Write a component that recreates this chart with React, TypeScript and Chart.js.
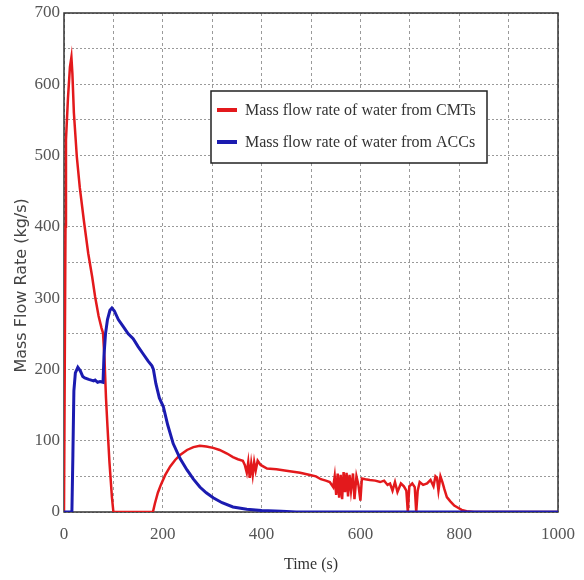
import { useEffect, useRef } from "react";
import { Chart, registerables } from "chart.js";

Chart.register(...registerables);

// Time (s) and mass flow rate (kg/s) of water from the CMTs
const cmtTime = [
  0, 2, 3, 4, 8, 12, 15, 17, 20, 26, 32, 40, 49, 57, 63, 70, 76, 79, 82, 85, 88, 92, 97, 100,
  180, 184, 190, 196, 205, 215, 225, 235, 249, 262, 275, 288, 302, 315, 330, 342, 352, 362,
  366, 370, 373, 376, 379, 382, 385, 388, 392, 398, 411, 430, 450, 478, 498, 510, 520, 530,
  538, 545, 548, 551, 554, 557, 560, 563, 566, 569, 572, 575, 578, 581, 585, 588, 592, 596,
  600, 603, 610, 619, 630, 640, 648, 655, 660, 665, 670, 675, 682, 688, 693, 696, 699, 705,
  710, 713, 716, 720, 727, 735, 742, 748, 752, 755, 758, 762, 766, 770, 775, 782, 790, 795,
  805, 815, 830, 1000,
];
const cmtFlow = [
  0, 0, 400, 522, 580, 624, 638, 615, 560, 498, 455, 410, 363, 330, 302, 275, 258, 251, 215,
  160, 120, 70, 21, 0,
  0, 12, 27, 38, 52, 64, 73, 80, 87, 91, 93, 92, 90, 87, 82, 77, 74, 72,
  66, 55, 70, 48, 68, 52, 70, 58, 72, 66, 61, 60, 58, 55, 52, 50, 46, 44,
  42, 35, 50, 24, 54, 20, 52, 18, 56, 28, 55, 22, 52, 30, 54, 18, 50, 38,
  16, 47, 46, 45, 44, 42, 44, 38, 40, 30, 42, 28, 40, 36, 30, 0, 36, 40,
  35, 0, 30, 42, 38, 40, 45, 36, 50, 48, 30, 50, 42, 32, 21, 15, 9, 7,
  3, 1, 0, 0,
];

// Time (s) and mass flow rate (kg/s) of water from the ACCs
const accTime = [
  0, 16, 18, 20, 23, 28, 33, 38, 42, 50, 55, 60, 63, 68, 73, 79, 81, 84, 88, 93, 97, 102,
  110, 120, 130, 140, 150, 160, 170, 178, 181, 186, 193, 201, 210, 221, 235, 249, 262, 275,
  288, 302, 320, 342, 370, 400, 440, 470, 1000,
];
const accFlow = [
  0, 0, 80, 170, 195, 203, 198, 190, 188, 186, 185, 184, 185, 182, 183, 182, 220, 250, 270,
  283, 286, 282, 270, 260, 250, 243, 232, 222, 212, 205, 200, 180, 160, 148, 122, 96, 75, 59,
  46, 35, 27, 20, 13, 7, 4, 2, 1, 0, 0,
];

const seriesLabels = ["Mass flow rate of water from CMTs", "Mass flow rate of water from ACCs"];
const seriesColors = ["#e3191c", "#1b1bb0"];
const xTickLabels = ["0", "200", "400", "600", "800", "1000"];
const yTickLabels = ["0", "100", "200", "300", "400", "500", "600", "700"];
const xTitle = "Time (s)";
const yTitle = "Mass Flow Rate (kg/s)";

const tickFont = { family: "'Liberation Serif', serif", size: 17 };

const frameAndLegend = {
  id: "frameAndLegend",
  beforeDatasetsDraw(chart: any) {
    const { ctx, chartArea } = chart;
    ctx.save();
    ctx.strokeStyle = "#333";
    ctx.lineWidth = 1.5;
    ctx.strokeRect(chartArea.left, chartArea.top, chartArea.right - chartArea.left, chartArea.bottom - chartArea.top);
    ctx.restore();
  },
  afterDatasetsDraw(chart: any) {
    const { ctx } = chart;
    const bx = 211, by = 91, bw = 276, bh = 72;
    ctx.save();
    ctx.fillStyle = "#fff";
    ctx.fillRect(bx, by, bw, bh);
    ctx.strokeStyle = "#222";
    ctx.lineWidth = 1.5;
    ctx.strokeRect(bx, by, bw, bh);
    ctx.font = "16px 'Liberation Serif', serif";
    ctx.textBaseline = "middle";
    ctx.textAlign = "left";
    const rows = [110, 142];
    seriesLabels.forEach((label, i) => {
      const y = rows[i];
      ctx.strokeStyle = seriesColors[i];
      ctx.lineWidth = 4;
      ctx.beginPath();
      ctx.moveTo(217, y);
      ctx.lineTo(237, y);
      ctx.stroke();
      ctx.fillStyle = "#333";
      ctx.fillText(label, 245, y + 1);
    });
    ctx.restore();
  },
};

export default function App() {
  const ref = useRef<HTMLCanvasElement | null>(null);

  useEffect(() => {
    if (!ref.current) return;
    const chart = new Chart(ref.current, {
      type: "line",
      data: {
        datasets: [
          {
            label: seriesLabels[0],
            data: cmtTime.map((t, i) => ({ x: t, y: cmtFlow[i] })),
            borderColor: seriesColors[0],
            backgroundColor: seriesColors[0],
            borderWidth: 2.5,
            pointRadius: 0,
            tension: 0,
            order: 2,
          },
          {
            label: seriesLabels[1],
            data: accTime.map((t, i) => ({ x: t, y: accFlow[i] })),
            borderColor: seriesColors[1],
            backgroundColor: seriesColors[1],
            borderWidth: 3,
            pointRadius: 0,
            tension: 0,
            order: 1,
          },
        ],
      },
      options: {
        animation: false,
        responsive: true,
        maintainAspectRatio: false,
        layout: { padding: { left: 0, right: 26, top: 13, bottom: 0 } },
        plugins: { legend: { display: false }, tooltip: { enabled: false } },
        scales: {
          x: {
            type: "linear",
            min: 0,
            max: 1000,
            afterFit(scale: any) {
              scale.height = 68;
              scale.paddingLeft = 0;
              scale.paddingRight = 0;
            },
            ticks: {
              stepSize: 100,
              autoSkip: false,
              maxRotation: 0,
              padding: 12,
              color: "#555",
              font: tickFont,
              callback: (v: any) => (xTickLabels.includes(String(v)) ? String(v) : ""),
            },
            grid: { color: "#9a9a9a", lineWidth: 1, drawTicks: false },
            border: { display: false, dash: [3, 3] },
            title: {
              display: true,
              text: xTitle,
              color: "#333",
              font: { family: "'Liberation Serif', serif", size: 16, lineHeight: 1 },
              padding: { top: 0, bottom: 7 },
            },
          },
          y: {
            type: "linear",
            min: 0,
            max: 700,
            afterFit(scale: any) {
              scale.width = 64;
              scale.paddingTop = 0;
              scale.paddingBottom = 0;
            },
            ticks: {
              stepSize: 50,
              autoSkip: false,
              padding: 4,
              color: "#555",
              font: tickFont,
              callback: (v: any) => (yTickLabels.includes(String(v)) ? String(v) : ""),
            },
            grid: { color: "#9a9a9a", lineWidth: 1, drawTicks: false },
            border: { display: false, dash: [2, 2] },
            title: {
              display: true,
              text: yTitle + "         ",
              color: "#444",
              font: { family: "'DejaVu Sans', sans-serif", size: 16, lineHeight: 1 },
              padding: { top: 14, bottom: 0 },
            },
          },
        },
      },
      plugins: [frameAndLegend],
    } as any);
    return () => chart.destroy();
  }, []);

  return (
    <div style={{ position: "fixed", left: 0, top: 0, width: 584, height: 580, background: "#fff" }}>
      <canvas ref={ref} />
    </div>
  );
}
